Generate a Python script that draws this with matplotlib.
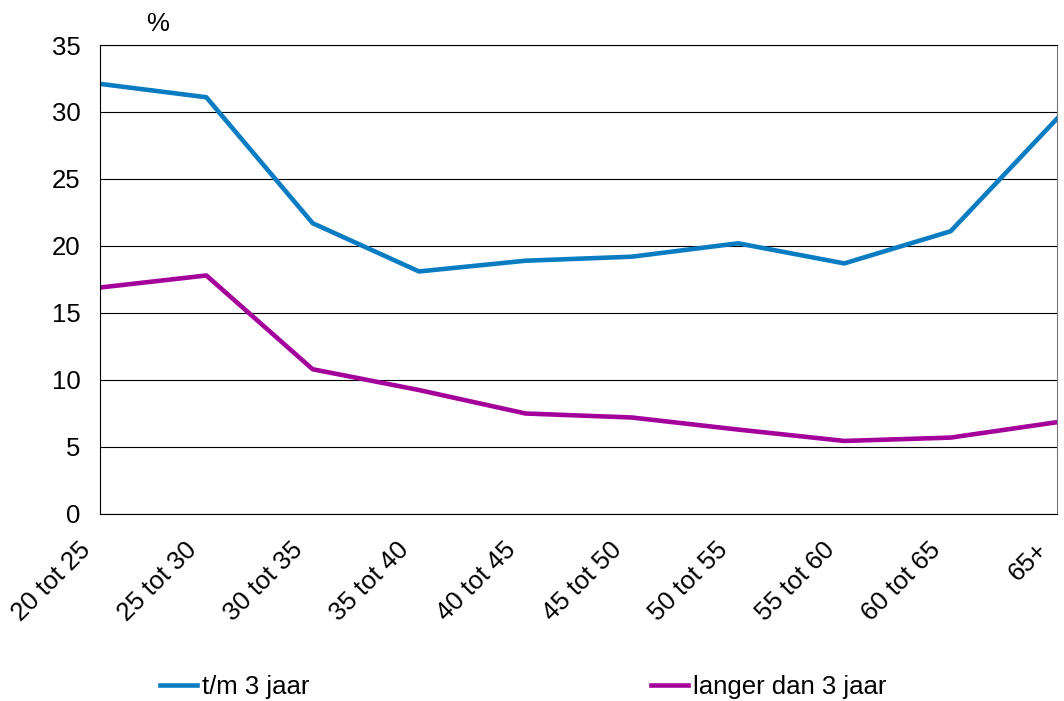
import matplotlib.pyplot as plt
from matplotlib.transforms import ScaledTranslation

plt.rcParams['font.family'] = ['Liberation Sans', 'DejaVu Sans']

ages = ["20 tot 25", "25 tot 30", "30 tot 35", "35 tot 40", "40 tot 45",
        "45 tot 50", "50 tot 55", "55 tot 60", "60 tot 65", "65+"]
short = [32.1, 31.1, 21.7, 18.1, 18.9, 19.2, 20.2, 18.7, 21.1, 29.5]
long_ = [16.9, 17.8, 10.8, 9.25, 7.5, 7.2, 6.3, 5.45, 5.7, 6.85]

fig = plt.figure(figsize=(10.64, 7.01), dpi=100)
ax = fig.add_axes([0.094, 0.2668, 0.8994, 0.669])

x = range(len(ages))
l1, = ax.plot(x, short, color="#0A7CC2", lw=3.3, label="t/m 3 jaar")
l2, = ax.plot(x, long_, color="#A4009C", lw=3.3, label="langer dan 3 jaar")

ax.set_xlim(0, len(ages) - 1)
ax.set_ylim(0, 35)
ax.set_yticks(range(0, 36, 5))
ax.set_xticks(list(x))
ax.set_xticklabels(ages, rotation=45, ha="right", va="top", rotation_mode="anchor")
ax.tick_params(length=0, labelsize=18.5)
ax.tick_params(axis="y", pad=14)
ax.tick_params(axis="x", pad=0)
# push the rotated labels down-left like the original
shift = ScaledTranslation(-0.22, -0.24, fig.dpi_scale_trans)
for lab in ax.get_xticklabels():
    lab.set_transform(lab.get_transform() + shift)
ax.yaxis.grid(True, color="black", lw=0.8)
ax.set_axisbelow(True)
for s in ax.spines.values():
    s.set_linewidth(0.8)
ax.spines["right"].set_color("#777777")

fig.text(0.148, 0.966, "%", fontsize=18.5, ha="center", va="center")

fig.legend(handles=[l1, l2], loc="center left", bbox_to_anchor=(0.150, 0.02),
           ncol=2, frameon=False, fontsize=18.5, handlelength=1.44,
           handletextpad=0.2, columnspacing=13.3, borderpad=0,
           borderaxespad=0)

fig.savefig("out.png", dpi=100)
